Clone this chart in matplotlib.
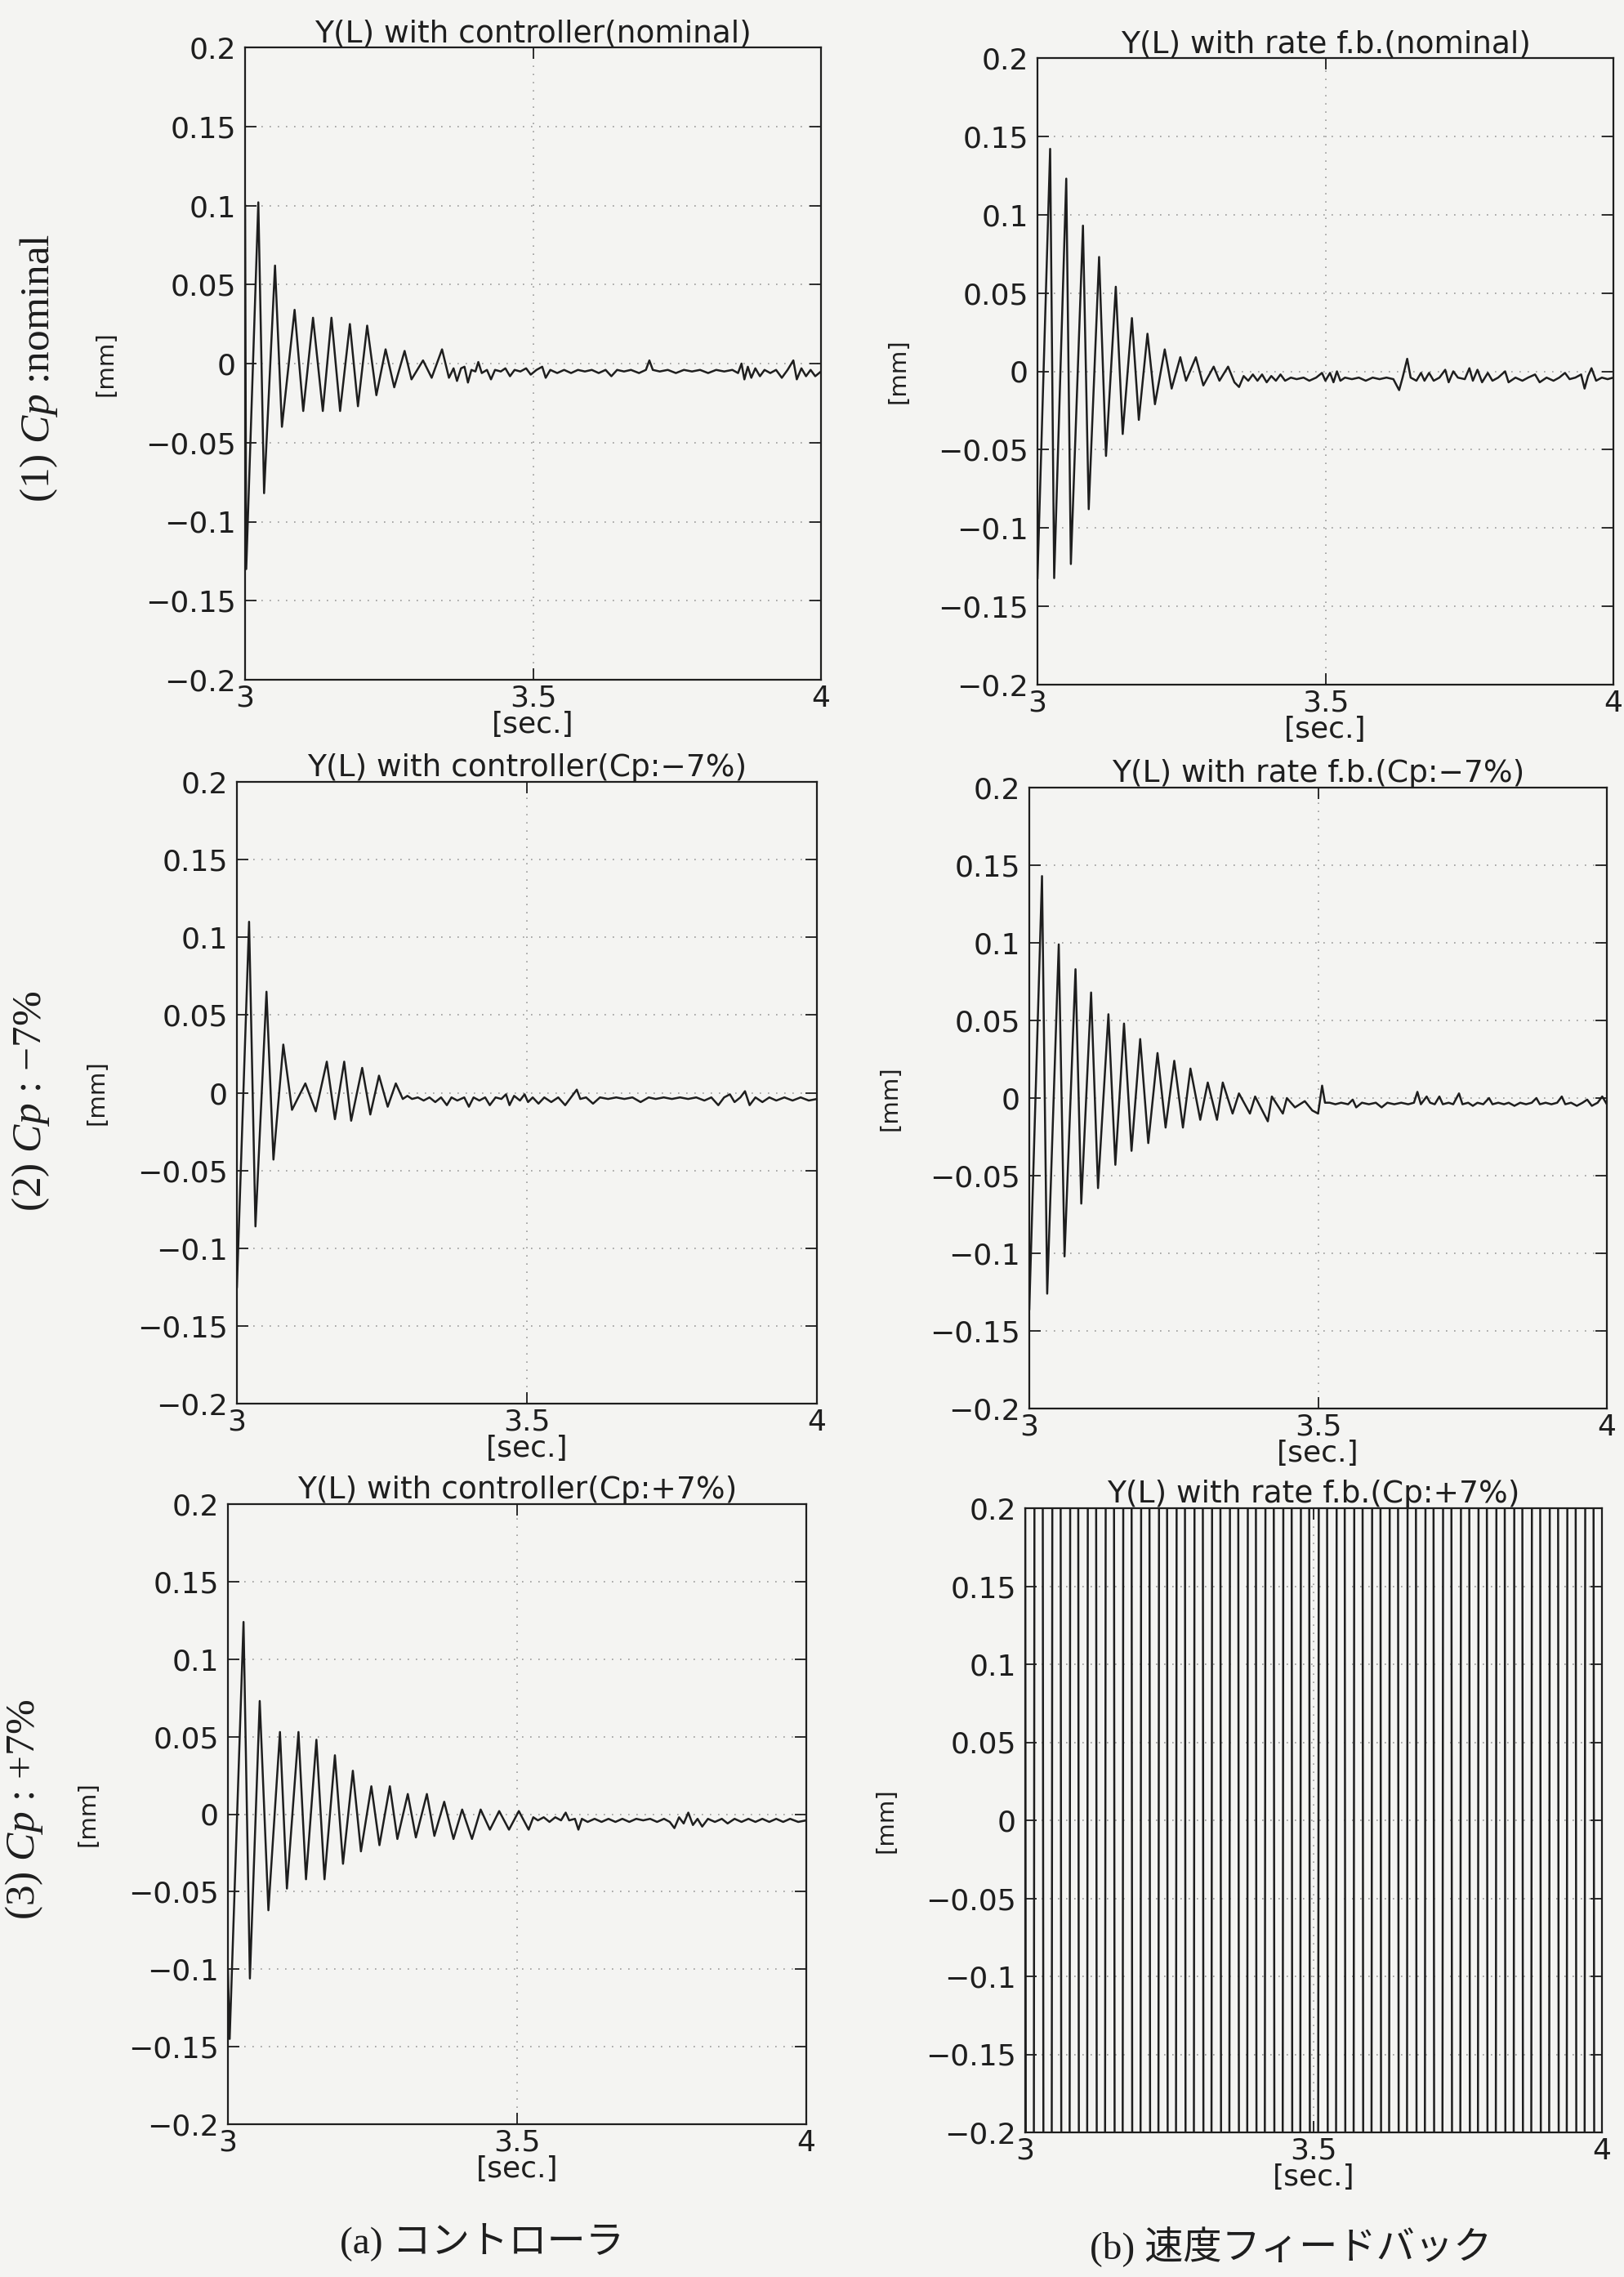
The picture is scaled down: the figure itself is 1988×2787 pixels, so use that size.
import matplotlib
matplotlib.use("Agg")
import matplotlib.pyplot as plt
from matplotlib.ticker import FixedLocator, FixedFormatter

plt.rcParams['mathtext.fontset'] = 'custom'
plt.rcParams['mathtext.rm'] = 'Liberation Serif'
plt.rcParams['mathtext.it'] = 'Liberation Serif:italic'

# ---------------- data ----------------
titles = ["Y(L) with controller(nominal)", "Y(L) with rate f.b.(nominal)",
          "Y(L) with controller(Cp:\u22127%)", "Y(L) with rate f.b.(Cp:\u22127%)",
          "Y(L) with controller(Cp:+7%)", "Y(L) with rate f.b.(Cp:+7%)"]
row_labels = ["(1) $Cp$ :nominal", "(2) $Cp$ : $\\mathit{-7\\%}$", "(3) $Cp$ : $\\mathit{+7\\%}$"]
col_labels = ["(a) コントローラ", "(b) 速度フィードバック"]
x_ticks = [3, 3.5, 4]
x_tick_labels = ["3", "3.5", "4"]
y_ticks = [-0.2, -0.15, -0.1, -0.05, 0, 0.05, 0.1, 0.15, 0.2]
y_tick_labels = ["\u22120.2", "\u22120.15", "\u22120.1", "\u22120.05", "0",
                 "0.05", "0.1", "0.15", "0.2"]

a1_points = [(3.000, 0.100), (3.002, -0.130), (3.023, 0.102), (3.033, -0.082), (3.052, 0.062),
             (3.064, -0.040), (3.086, 0.034), (3.101, -0.030), (3.118, 0.029), (3.135, -0.030),
             (3.150, 0.029), (3.165, -0.030), (3.182, 0.025), (3.196, -0.027), (3.212, 0.024),
             (3.228, -0.020), (3.244, 0.009), (3.259, -0.015), (3.277, 0.008), (3.289, -0.010),
             (3.309, 0.002), (3.324, -0.009), (3.342, 0.009), (3.354, -0.009),
             (3.362, -0.003), (3.368, -0.011), (3.375, -0.003), (3.381, -0.002), (3.387, -0.012),
             (3.393, -0.004), (3.400, -0.005), (3.405, 0.001), (3.411, -0.006), (3.420, -0.004),
             (3.427, -0.010), (3.434, -0.004), (3.444, -0.005), (3.452, -0.003), (3.460, -0.008),
             (3.468, -0.004), (3.478, -0.005), (3.488, -0.003), (3.496, -0.007), (3.506, -0.004),
             (3.516, -0.002), (3.522, -0.009), (3.530, -0.004), (3.542, -0.006), (3.554, -0.004),
             (3.566, -0.006), (3.578, -0.004), (3.590, -0.005), (3.602, -0.004), (3.614, -0.006),
             (3.626, -0.004), (3.636, -0.008), (3.646, -0.004), (3.658, -0.005), (3.670, -0.004),
             (3.684, -0.006), (3.696, -0.004), (3.702, 0.002), (3.708, -0.004), (3.720, -0.005),
             (3.734, -0.004), (3.748, -0.006), (3.762, -0.004), (3.776, -0.005), (3.790, -0.004),
             (3.804, -0.006), (3.818, -0.004), (3.832, -0.005), (3.846, -0.004), (3.856, -0.006),
             (3.862, 0.000), (3.867, -0.010), (3.873, -0.002), (3.879, -0.009), (3.886, -0.003),
             (3.894, -0.008), (3.902, -0.004), (3.912, -0.006), (3.922, -0.004), (3.932, -0.009),
             (3.942, -0.004), (3.952, 0.002), (3.958, -0.010), (3.966, -0.003), (3.974, -0.008),
             (3.982, -0.004), (3.990, -0.008), (4.000, -0.005)]

b1_points = [(3.000, -0.132), (3.022, 0.142), (3.029, -0.132), (3.050, 0.123), (3.058, -0.123),
             (3.079, 0.093), (3.089, -0.088), (3.107, 0.073), (3.119, -0.054), (3.136, 0.054),
             (3.148, -0.040), (3.164, 0.034), (3.176, -0.031), (3.191, 0.024), (3.204, -0.021),
             (3.221, 0.014), (3.233, -0.011), (3.248, 0.009), (3.258, -0.006), (3.275, 0.009),
             (3.288, -0.009), (3.306, 0.003), (3.316, -0.006), (3.331, 0.003), (3.342, -0.007),
             (3.350, -0.010), (3.358, -0.003), (3.366, -0.006), (3.374, -0.002), (3.382, -0.006),
             (3.390, -0.002), (3.398, -0.007), (3.406, -0.003), (3.414, -0.006), (3.422, -0.002),
             (3.430, -0.006), (3.440, -0.004), (3.450, -0.005), (3.462, -0.004), (3.472, -0.006),
             (3.484, -0.004), (3.494, -0.001), (3.500, -0.006), (3.508, -0.001), (3.514, -0.007),
             (3.520, 0.000), (3.526, -0.006), (3.534, -0.004), (3.546, -0.005), (3.558, -0.004),
             (3.570, -0.006), (3.582, -0.004), (3.594, -0.005), (3.606, -0.004), (3.618, -0.005),
             (3.628, -0.012), (3.634, -0.004), (3.642, 0.008), (3.648, -0.004), (3.658, -0.006),
             (3.666, -0.001), (3.672, -0.006), (3.680, -0.001), (3.688, -0.006), (3.698, -0.004),
             (3.708, 0.001), (3.714, -0.007), (3.722, 0.000), (3.730, -0.004), (3.742, -0.005),
             (3.750, 0.002), (3.756, -0.006), (3.764, 0.001), (3.772, -0.007), (3.782, -0.001),
             (3.790, -0.006), (3.800, -0.004), (3.812, 0.000), (3.818, -0.007), (3.830, -0.004),
             (3.842, -0.006), (3.852, -0.004), (3.864, -0.002), (3.872, -0.007), (3.884, -0.004),
             (3.896, -0.006), (3.906, -0.004), (3.916, -0.001), (3.924, -0.005), (3.934, -0.004),
             (3.944, -0.002), (3.950, -0.011), (3.956, -0.003), (3.962, 0.002), (3.970, -0.006),
             (3.980, -0.004), (3.990, -0.005), (4.000, -0.004)]

a2_points = [(3.000, -0.125), (3.021, 0.110), (3.032, -0.086), (3.051, 0.065), (3.063, -0.043),
             (3.080, 0.031), (3.095, -0.011), (3.118, 0.006), (3.136, -0.012), (3.155, 0.020),
             (3.169, -0.017), (3.185, 0.020), (3.197, -0.018), (3.216, 0.016), (3.230, -0.014),
             (3.245, 0.011), (3.260, -0.009), (3.274, 0.006), (3.286, -0.004),
             (3.294, -0.002), (3.302, -0.004), (3.312, -0.003), (3.322, -0.005), (3.332, -0.003),
             (3.342, -0.006), (3.352, -0.003), (3.362, -0.008), (3.370, -0.003), (3.380, -0.005),
             (3.392, -0.003), (3.400, -0.009), (3.408, -0.003), (3.418, -0.005), (3.428, -0.003),
             (3.436, -0.008), (3.446, -0.003), (3.456, -0.004), (3.464, -0.001), (3.470, -0.008),
             (3.478, -0.002), (3.488, -0.005), (3.496, -0.001), (3.502, -0.006), (3.510, -0.003),
             (3.520, -0.007), (3.530, -0.003), (3.542, -0.006), (3.554, -0.003), (3.566, -0.008),
             (3.576, -0.003), (3.586, 0.002), (3.592, -0.004), (3.602, -0.003), (3.614, -0.007),
             (3.626, -0.003), (3.640, -0.004), (3.654, -0.003), (3.668, -0.004), (3.682, -0.003),
             (3.696, -0.006), (3.710, -0.003), (3.722, -0.004), (3.736, -0.003), (3.750, -0.004),
             (3.764, -0.003), (3.778, -0.004), (3.792, -0.003), (3.806, -0.005), (3.818, -0.003),
             (3.830, -0.008), (3.840, -0.003), (3.850, -0.001), (3.858, -0.006), (3.868, -0.003),
             (3.876, 0.001), (3.884, -0.008), (3.894, -0.003), (3.906, -0.006), (3.918, -0.003),
             (3.930, -0.005), (3.944, -0.003), (3.958, -0.005), (3.972, -0.003), (3.986, -0.005),
             (4.000, -0.004)]

b2_points = [(3.000, -0.136), (3.022, 0.143), (3.031, -0.126), (3.051, 0.099), (3.061, -0.102),
             (3.080, 0.083), (3.090, -0.068), (3.107, 0.068), (3.119, -0.058), (3.137, 0.054),
             (3.149, -0.043), (3.164, 0.048), (3.177, -0.034), (3.192, 0.038), (3.206, -0.029),
             (3.222, 0.029), (3.236, -0.019), (3.251, 0.024), (3.266, -0.019), (3.279, 0.019),
             (3.296, -0.014), (3.309, 0.010), (3.325, -0.014), (3.335, 0.010), (3.352, -0.010),
             (3.363, 0.003), (3.382, -0.010), (3.391, 0.001), (3.413, -0.015), (3.420, 0.001),
             (3.439, -0.010), (3.446, 0.000), (3.460, -0.006), (3.477, -0.002), (3.490, -0.008),
             (3.500, -0.010), (3.507, 0.008), (3.512, -0.003),
             (3.520, -0.003), (3.530, -0.004), (3.540, -0.003), (3.552, -0.004), (3.560, -0.001),
             (3.566, -0.006), (3.576, -0.003), (3.588, -0.004), (3.600, -0.003), (3.610, -0.006),
             (3.620, -0.003), (3.632, -0.004), (3.644, -0.003), (3.656, -0.004), (3.666, -0.003),
             (3.672, 0.004), (3.678, -0.004), (3.688, 0.001), (3.694, -0.003), (3.702, -0.004),
             (3.710, 0.001), (3.716, -0.004), (3.726, -0.003), (3.734, -0.004), (3.744, 0.003),
             (3.750, -0.004), (3.760, -0.003), (3.768, -0.005), (3.776, -0.003), (3.786, -0.004),
             (3.796, 0.000), (3.802, -0.004), (3.812, -0.003), (3.822, -0.004), (3.830, -0.003),
             (3.840, -0.005), (3.850, -0.003), (3.860, -0.004), (3.870, -0.003), (3.878, 0.000),
             (3.884, -0.004), (3.894, -0.003), (3.904, -0.004), (3.914, -0.003), (3.922, 0.001),
             (3.928, -0.004), (3.938, -0.003), (3.948, -0.005), (3.958, -0.003), (3.966, -0.001),
             (3.974, -0.005), (3.984, -0.003), (3.992, 0.001), (4.000, -0.004)]

a3_points = [(3.000, -0.100), (3.003, -0.145), (3.027, 0.124), (3.038, -0.106), (3.055, 0.073),
             (3.070, -0.062), (3.090, 0.053), (3.102, -0.048), (3.122, 0.053), (3.135, -0.042),
             (3.153, 0.048), (3.167, -0.042), (3.185, 0.038), (3.199, -0.032), (3.216, 0.028),
             (3.230, -0.024), (3.248, 0.018), (3.262, -0.020), (3.280, 0.018), (3.293, -0.016),
             (3.311, 0.013), (3.325, -0.015), (3.344, 0.013), (3.357, -0.014), (3.374, 0.008),
             (3.390, -0.016), (3.405, 0.003), (3.422, -0.016), (3.437, 0.003), (3.453, -0.010),
             (3.469, 0.002), (3.486, -0.010), (3.503, 0.002), (3.520, -0.010), (3.528, -0.002),
             (3.536, -0.004), (3.546, -0.002), (3.556, -0.005), (3.566, -0.002), (3.576, -0.004),
             (3.584, 0.001), (3.590, -0.004), (3.600, -0.003), (3.606, -0.010), (3.612, -0.003),
             (3.622, -0.005), (3.634, -0.003), (3.646, -0.005), (3.658, -0.003), (3.670, -0.005),
             (3.682, -0.003), (3.694, -0.005), (3.706, -0.003), (3.718, -0.004), (3.730, -0.003),
             (3.742, -0.005), (3.754, -0.003), (3.764, -0.005), (3.772, -0.009), (3.780, -0.002),
             (3.788, -0.006), (3.796, 0.001), (3.804, -0.007), (3.812, -0.003), (3.820, -0.008),
             (3.830, -0.003), (3.842, -0.005), (3.854, -0.003), (3.864, -0.006), (3.876, -0.003),
             (3.888, -0.005), (3.900, -0.003), (3.912, -0.005), (3.924, -0.003), (3.936, -0.005),
             (3.948, -0.003), (3.960, -0.005), (3.972, -0.003), (3.986, -0.005), (4.000, -0.004)]

# divergent case: the oscillation runs far beyond the +/-0.2 window
b3_points = [(2.993, 3.0), (3.008, -3.0), (3.023, 3.0), (3.039, -3.0), (3.054, 3.0), (3.070, -3.0),
             (3.085, 3.0), (3.100, -3.0), (3.116, 3.0), (3.131, -3.0), (3.147, 3.0), (3.162, -3.0),
             (3.177, 3.0), (3.193, -3.0), (3.208, 3.0), (3.224, -3.0), (3.239, 3.0), (3.254, -3.0),
             (3.270, 3.0), (3.285, -3.0), (3.301, 3.0), (3.316, -3.0), (3.331, 3.0), (3.347, -3.0),
             (3.362, 3.0), (3.378, -3.0), (3.393, 3.0), (3.408, -3.0), (3.424, 3.0), (3.439, -3.0),
             (3.455, 3.0), (3.470, -3.0), (3.485, 3.0), (3.501, -3.0), (3.516, 3.0), (3.532, -3.0),
             (3.547, 3.0), (3.562, -3.0), (3.578, 3.0), (3.593, -3.0), (3.609, 3.0), (3.624, -3.0),
             (3.639, 3.0), (3.655, -3.0), (3.670, 3.0), (3.686, -3.0), (3.701, 3.0), (3.716, -3.0),
             (3.732, 3.0), (3.747, -3.0), (3.763, 3.0), (3.778, -3.0), (3.793, 3.0), (3.809, -3.0),
             (3.824, 3.0), (3.840, -3.0), (3.855, 3.0), (3.870, -3.0), (3.886, 3.0), (3.901, -3.0),
             (3.917, 3.0), (3.932, -3.0), (3.947, 3.0), (3.963, -3.0), (3.978, 3.0), (3.994, -3.0),
             (4.009, 3.0)]

series = [a1_points, b1_points, a2_points, b2_points, a3_points, b3_points]

# ---------------- layout ----------------
W, H = 1988, 2787
BG = "#f4f4f2"
INK = "#1e1e1e"
fig = plt.figure(figsize=(W / 100, H / 100), dpi=100, facecolor=BG)

# axes boxes in pixels: left, right, top, bottom
boxes = [(300, 1005, 58, 832), (1270, 1975, 71, 838),
         (290, 1000, 957, 1718), (1260, 1967, 964, 1724),
         (279, 987, 1841, 2600), (1255, 1961, 1846, 2610)]

for i, ((l, r, t, b), pts, title) in enumerate(zip(boxes, series, titles)):
    ax = fig.add_axes([l / W, 1 - b / H, (r - l) / W, (b - t) / H])
    ax.set_facecolor(BG)
    xs = [p[0] for p in pts]
    ys = [p[1] for p in pts]
    ax.plot(xs, ys, color=INK, lw=1.8, solid_joinstyle='round')
    ax.set_xlim(3, 4)
    ax.set_ylim(-0.2, 0.2)
    ax.xaxis.set_major_locator(FixedLocator(x_ticks))
    ax.xaxis.set_major_formatter(FixedFormatter(x_tick_labels))
    ax.yaxis.set_major_locator(FixedLocator(y_ticks))
    ax.yaxis.set_major_formatter(FixedFormatter(y_tick_labels))
    ax.tick_params(direction='in', length=10, width=1.3, colors=INK,
                   labelsize=26, top=True, right=True)
    ax.tick_params(axis='x', pad=4)
    ax.tick_params(axis='y', pad=8)
    for s in ax.spines.values():
        s.set_color(INK)
        s.set_linewidth(1.6)
    ax.grid(True, color="#9a9a9a", linestyle=(0, (1, 5)), linewidth=1.2)
    ax.set_axisbelow(True)
    ax.set_title(title, fontsize=27, color=INK, pad=5)
    ax.set_xlabel("[sec.]", fontsize=26, color=INK, labelpad=-1)
    ax.set_ylabel("[mm]", fontsize=21, color=INK)
    ax.yaxis.set_label_coords(-0.222, 0.5)

# row labels
row_pos = [(48, 450), (38, 1348), (30, 2215)]
for (x, y), lab in zip(row_pos, row_labels):
    fig.text(x / W, 1 - y / H, lab, rotation=90, ha='center', va='center',
             fontsize=37, color=INK, family='Liberation Serif')

# column captions
col_pos = [(590, 2745), (1580, 2750)]
for (x, y), lab in zip(col_pos, col_labels):
    fig.text(x / W, 1 - y / H, lab, ha='center', va='center', fontsize=34,
             color=INK, family=['Liberation Serif', 'Noto Sans CJK JP'])

fig.savefig("out.png", dpi=100, facecolor=BG)
